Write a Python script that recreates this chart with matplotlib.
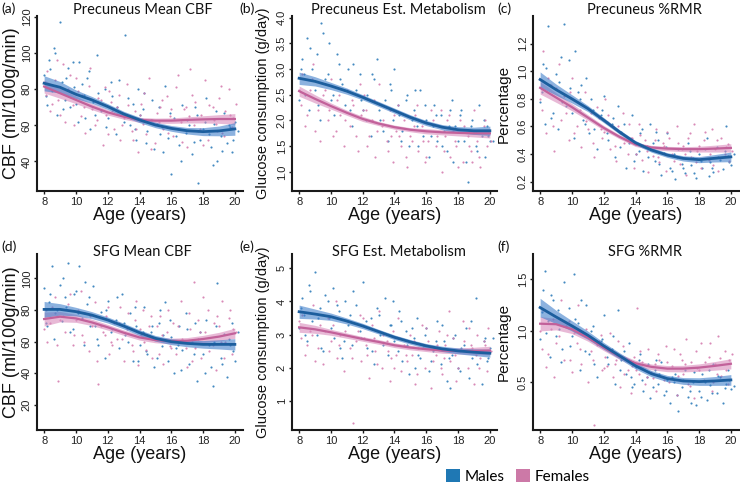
import matplotlib
matplotlib.use('Agg')
import matplotlib.pyplot as plt
from matplotlib.patches import Patch

AXF = 'Liberation Sans'
TF = 'Lato'

# ---------------- data ----------------
fit_age = [8, 9, 10, 11, 12, 13, 14, 15, 16, 17, 18, 19, 20]

male_age = [8.0, 8.2, 8.3, 8.5, 8.6, 8.8, 9.0, 9.1, 9.3, 9.5, 9.6, 9.9, 10.1, 10.2, 10.5,
            10.7, 10.9, 11.1, 11.3, 11.6, 11.8, 12.0, 12.3, 12.5, 12.7, 12.9, 13.1, 13.4,
            13.6, 13.8, 14.0, 14.3, 14.5, 14.7, 14.9, 15.2, 15.4, 15.6, 15.8, 16.0, 16.2,
            16.5, 16.7, 16.9, 17.1, 17.3, 17.6, 17.8, 18.0, 18.2, 18.5, 18.7, 18.9, 19.1,
            19.3, 19.5, 19.7, 19.8, 20.0, 16.4,
            8.1, 8.4, 8.7, 9.2, 9.4, 9.8, 10.0, 10.4, 10.8, 11.2, 11.4, 11.9, 12.2, 12.6,
            13.0, 13.3, 13.7, 14.2, 14.4, 14.8, 15.1, 15.5, 15.9, 16.3, 16.6, 17.0, 17.4,
            17.7, 18.1, 18.4, 18.8, 19.2, 19.6, 19.9, 10.6, 13.9, 15.3, 17.5, 18.6, 20.2]
female_age = [8.1, 8.2, 8.4, 8.7, 8.9, 9.2, 9.3, 9.5, 9.8, 10.0, 10.3, 10.4, 10.6, 10.8,
              11.0, 11.2, 11.4, 11.7, 11.9, 12.1, 12.4, 12.6, 12.8, 13.0, 13.2, 13.5, 13.7,
              13.9, 14.1, 14.2, 14.4, 14.6, 14.8, 15.0, 15.3, 15.5, 15.7, 15.9, 16.1, 16.3,
              16.6, 16.8, 17.0, 17.2, 17.4, 17.5, 17.7, 17.9, 18.1, 18.3, 18.6, 18.8, 19.0,
              19.2, 19.4, 19.6, 19.8, 19.9, 12.2, 15.1,
              8.0, 8.5, 8.8, 9.0, 9.6, 9.9, 10.1, 10.5, 10.9, 11.3, 11.6, 12.0, 12.3, 12.7,
              12.9, 13.3, 13.6, 14.0, 14.3, 14.7, 15.2, 15.4, 15.8, 16.0, 16.4, 16.7, 17.1,
              17.3, 17.8, 18.0, 18.4, 18.7, 19.1, 19.3, 19.7, 20.1, 11.8, 13.8, 16.9, 18.9]

# (a) Precuneus Mean CBF
a_male_pts = [88, 71, 96, 79, 103, 66, 117, 84, 74, 92, 70, 81, 62, 95, 77, 86, 58, 73, 99, 68,
              80, 64, 76, 55, 85, 67, 110, 60, 72, 52, 66, 78, 57, 63, 47, 70, 59, 82, 53, 33,
              64, 49, 71, 56, 60, 44, 66, 52, 58, 75, 48, 61, 40, 54, 67, 50, 59, 45, 62, 58,
              76, 91, 100, 69, 86, 95, 72, 83, 90, 66, 78, 59, 84, 70, 62, 75, 58, 69, 50, 74,
              61, 45, 67, 54, 40, 63, 51, 28, 62, 55, 68, 46, 60, 52, 64, 80, 55, 70, 38, 57]
a_female_pts = [77, 90, 68, 85, 74, 94, 62, 80, 71, 86, 65, 77, 56, 82, 69, 60, 75, 49, 66, 79,
                58, 70, 52, 64, 83, 57, 68, 45, 72, 61, 55, 86, 63, 50, 70, 58, 76, 65, 54, 81,
                62, 69, 48, 91, 60, 73, 57, 66, 85, 52, 70, 61, 75, 56, 68, 80, 59, 64, 73, 67,
                84, 72, 96, 66, 88, 60, 79, 70, 92, 63, 74, 55, 68, 77, 60, 71, 52, 66, 78, 47,
                62, 74, 56, 69, 88, 51, 65, 77, 58, 49, 71, 63, 82, 54, 66, 72, 81, 58, 70, 57]
a_male_fit = [83.3, 81.1, 77.2, 74.1, 70.4, 66.3, 63.0, 60.2, 58.3, 57.0, 56.5, 56.9, 58.0]
a_male_se = [4.2, 3.2, 2.4, 1.9, 1.6, 1.5, 1.5, 1.5, 1.6, 1.8, 2.2, 2.7, 3.5]
a_female_fit = [81.5, 77.8, 74.1, 70.4, 67.2, 64.8, 63.0, 62.6, 62.6, 63.0, 63.3, 63.5, 63.5]
a_female_se = [3.6, 2.8, 2.1, 1.7, 1.5, 1.4, 1.4, 1.4, 1.5, 1.7, 2.0, 2.4, 3.0]

# (b) Precuneus Est. Metabolism
b_male_pts = [2.4, 3.2, 2.9, 3.6, 2.2, 3.0, 2.6, 3.3, 2.0, 3.7, 2.8, 3.5, 2.5, 2.1, 3.1, 2.7,
              2.3, 3.0, 1.9, 2.6, 2.9, 2.2, 2.5, 1.7, 2.8, 3.2, 2.0, 2.4, 1.6, 2.6, 3.0, 2.1,
              1.8, 2.4, 1.5, 2.2, 1.9, 2.6, 1.7, 2.0, 1.3, 2.3, 1.6, 2.1, 1.8, 1.4, 2.4, 1.9,
              1.6, 2.2, 1.2, 1.8, 2.0, 1.5, 2.3, 1.7, 1.3, 1.9, 1.6, 1.9,
              3.0, 2.5, 3.4, 2.3, 3.9, 2.9, 2.4, 3.3, 2.6, 2.2, 3.1, 2.4, 2.0, 2.9, 2.2, 1.8,
              2.7, 2.3, 1.6, 2.5, 2.0, 1.5, 2.3, 1.7, 2.1, 1.5, 1.9, 1.2, 2.1, 1.6, 1.9, 1.4,
              2.0, 1.7, 2.8, 2.0, 2.6, 2.2, 0.8, 1.6]
b_female_pts = [2.3, 2.9, 1.9, 2.6, 3.1, 2.2, 1.6, 2.5, 2.0, 2.8, 1.8, 2.4, 2.1, 1.5, 2.6, 1.9,
                2.3, 1.4, 2.1, 2.5, 1.7, 2.0, 1.3, 2.7, 1.9, 1.6, 2.2, 1.2, 1.8, 2.3, 1.5, 2.0,
                1.1, 1.7, 2.1, 1.4, 1.9, 1.2, 1.6, 2.2, 1.5, 1.9, 1.0, 1.7, 2.1, 1.3, 1.8, 1.5,
                2.0, 1.2, 1.7, 1.4, 2.2, 1.6, 1.1, 1.9, 1.5, 1.8, 2.2, 1.6,
                2.6, 2.1, 2.8, 1.8, 2.6, 2.2, 1.7, 2.5, 2.0, 2.4, 1.7, 2.2, 1.5, 2.4, 1.8, 2.0,
                1.4, 2.1, 1.7, 1.3, 1.9, 2.3, 1.6, 1.3, 2.0, 1.7, 1.4, 2.0, 1.6, 1.1, 1.9, 1.5,
                1.8, 1.3, 2.0, 1.6, 2.7, 1.7, 2.2, 1.2]
b_male_fit = [2.82, 2.76, 2.67, 2.57, 2.45, 2.32, 2.19, 2.06, 1.95, 1.87, 1.82, 1.80, 1.80]
b_male_se = [0.12, 0.09, 0.07, 0.06, 0.05, 0.05, 0.05, 0.05, 0.05, 0.05, 0.06, 0.07, 0.09]
b_female_fit = [2.57, 2.42, 2.28, 2.15, 2.03, 1.94, 1.87, 1.82, 1.79, 1.77, 1.76, 1.75, 1.75]
b_female_se = [0.10, 0.08, 0.06, 0.05, 0.05, 0.04, 0.04, 0.04, 0.05, 0.05, 0.06, 0.07, 0.09]

# (c) Precuneus %RMR
c_male_pts = [0.78, 1.05, 0.62, 1.33, 0.90, 0.70, 0.98, 0.58, 1.10, 1.34, 0.75, 0.88, 0.52,
              1.15, 0.80, 0.65, 0.95, 0.55, 0.72, 0.44, 0.68, 0.82, 0.50, 0.62, 0.38, 0.75,
              0.56, 0.30, 0.48, 0.68, 0.40, 0.55, 0.28, 0.46, 0.62, 0.35, 0.50, 0.25, 0.41,
              0.55, 0.30, 0.22, 0.44, 0.33, 0.26, 0.48, 0.37, 0.23, 0.40, 0.30, 0.52, 0.34,
              0.27, 0.45, 0.36, 0.29, 0.60, 0.39, 0.32, 0.40,
              0.85, 1.02, 0.66, 0.92, 0.78, 1.08, 0.70, 0.85, 0.62, 0.80, 0.58, 0.72, 0.55,
              0.66, 0.45, 0.62, 0.50, 0.42, 0.58, 0.38, 0.48, 0.33, 0.45, 0.28, 0.38, 0.30,
              0.42, 0.26, 0.35, 0.44, 0.30, 0.38, 0.42, 0.34, 0.90, 0.35, 0.56, 0.32, 0.24, 0.40]
c_female_pts = [0.72, 1.15, 0.55, 0.90, 0.42, 1.05, 0.65, 0.82, 0.50, 0.95, 0.60, 0.78, 0.45,
                0.85, 0.58, 0.70, 0.38, 0.66, 0.52, 0.80, 0.44, 0.60, 0.35, 0.55, 0.70, 0.40,
                0.52, 0.30, 0.47, 0.62, 0.36, 0.50, 0.27, 0.44, 0.58, 0.34, 0.48, 0.28, 0.52,
                0.40, 0.60, 0.33, 0.46, 0.25, 0.55, 0.38, 0.62, 0.42, 0.30, 0.50, 0.36, 0.58,
                0.44, 0.28, 0.52, 0.40, 0.47, 0.35, 0.63, 0.39,
                0.80, 0.95, 0.60, 0.88, 0.70, 0.85, 0.55, 0.72, 0.64, 0.48, 0.74, 0.56, 0.68,
                0.46, 0.60, 0.48, 0.62, 0.40, 0.54, 0.42, 0.50, 0.38, 0.46, 0.56, 0.35, 0.48,
                0.40, 0.52, 0.34, 0.46, 0.56, 0.40, 0.50, 0.37, 0.45, 0.42, 0.58, 0.52, 0.44, 0.32]
c_male_fit = [0.94, 0.867, 0.80, 0.73, 0.646, 0.56, 0.482, 0.43, 0.393, 0.369, 0.36, 0.37, 0.38]
c_male_se = [0.055, 0.04, 0.03, 0.022, 0.018, 0.016, 0.016, 0.016, 0.017, 0.019, 0.022, 0.027, 0.035]
c_female_fit = [0.88, 0.81, 0.74, 0.665, 0.59, 0.525, 0.47, 0.448, 0.44, 0.436, 0.436, 0.44, 0.445]
c_female_se = [0.045, 0.035, 0.026, 0.02, 0.017, 0.015, 0.015, 0.015, 0.016, 0.018, 0.021, 0.025, 0.03]

# (d) SFG Mean CBF
d_male_pts = [94, 70, 85, 108, 62, 80, 96, 73, 88, 110, 66, 90, 78, 108, 58, 84, 70, 95, 62, 79,
              50, 86, 68, 74, 56, 90, 64, 78, 48, 70, 58, 82, 52, 66, 44, 72, 57, 85, 48, 63,
              40, 70, 55, 78, 46, 60, 35, 66, 52, 74, 44, 60, 97, 50, 65, 38, 58, 72, 48, 58,
              72, 90, 78, 100, 82, 68, 92, 75, 88, 70, 58, 80, 66, 88, 72, 60, 82, 66, 54, 70,
              50, 64, 74, 56, 42, 68, 52, 62, 40, 58, 70, 46, 62, 54, 98, 48, 80, 72, 32, 66]
d_female_pts = [80, 60, 72, 88, 35, 76, 66, 84, 58, 74, 92, 64, 78, 54, 70, 85, 33, 66, 76, 52,
                72, 62, 82, 48, 68, 58, 74, 45, 64, 80, 55, 70, 50, 62, 76, 46, 66, 57, 72, 52,
                86, 60, 44, 68, 98, 56, 74, 50, 66, 80, 58, 42, 70, 86, 60, 75, 52, 68, 60, 70,
                68, 82, 58, 74, 90, 64, 80, 60, 76, 48, 70, 82, 58, 72, 62, 78, 54, 68, 60, 76,
                52, 64, 80, 56, 70, 62, 78, 48, 66, 88, 54, 72, 60, 50, 80, 66, 64, 86, 56, 76]
d_male_fit = [80.4, 80.4, 79.0, 76.8, 73.7, 69.9, 65.7, 62.1, 60.0, 58.9, 58.3, 58.3, 58.3]
d_male_se = [5.0, 3.6, 2.7, 2.2, 1.9, 1.8, 1.8, 1.8, 1.9, 2.1, 2.4, 2.9, 3.6]
d_female_fit = [74.3, 75.8, 74.7, 72.2, 69.1, 65.7, 62.7, 61.0, 60.4, 60.6, 61.7, 63.2, 65.3]
d_female_se = [4.4, 3.3, 2.5, 2.0, 1.8, 1.7, 1.7, 1.7, 1.8, 2.0, 2.3, 2.7, 3.2]

# (e) SFG Est. Metabolism
e_male_pts = [3.2, 4.1, 3.6, 2.8, 4.5, 3.4, 4.9, 3.0, 3.8, 2.5, 4.2, 3.5, 4.4, 2.9, 3.7, 2.3,
              4.0, 3.3, 2.7, 3.9, 3.1, 4.6, 2.6, 3.5, 2.1, 3.8, 3.0, 4.1, 2.4, 3.3, 2.8, 3.7,
              2.2, 3.1, 1.8, 2.9, 3.5, 2.3, 2.7, 3.2, 1.9, 2.6, 3.4, 2.1, 2.8, 1.6, 2.4, 3.0,
              2.0, 2.6, 3.2, 1.7, 2.3, 4.1, 2.5, 1.5, 2.9, 2.2, 2.6, 2.5,
              3.8, 3.0, 4.3, 3.5, 2.6, 4.0, 3.2, 3.9, 2.8, 3.6, 4.3, 2.9, 3.4, 2.5, 3.6, 2.7,
              3.3, 2.5, 3.4, 2.7, 3.2, 2.4, 3.0, 2.2, 2.8, 3.3, 2.3, 2.9, 1.9, 2.7, 3.4, 2.1,
              2.8, 2.3, 2.6, 4.0, 2.0, 1.4, 2.5, 2.9]
e_female_pts = [2.9, 3.6, 2.4, 3.1, 3.9, 2.6, 3.3, 2.1, 3.5, 2.8, 4.0, 2.3, 3.0, 1.9, 3.4, 2.6,
                0.35, 3.1, 2.2, 2.9, 1.7, 3.3, 2.5, 3.7, 2.0, 2.8, 1.6, 3.1, 2.4, 3.5, 1.9, 2.7,
                2.2, 3.0, 1.5, 2.6, 3.3, 2.0, 2.8, 1.4, 2.4, 3.1, 1.8, 2.7, 3.7, 2.2, 2.9, 1.6,
                2.5, 3.4, 2.0, 2.7, 1.5, 3.0, 2.3, 2.8, 1.9, 3.2, 2.7, 2.4,
                3.4, 2.7, 3.0, 2.2, 3.1, 2.5, 3.3, 2.7, 3.1, 2.3, 2.8, 3.5, 2.4, 2.9, 2.1, 3.0,
                2.5, 2.0, 2.9, 2.4, 2.8, 1.8, 2.6, 3.2, 2.2, 2.7, 2.3, 3.0, 2.4, 2.0, 2.8, 3.2,
                2.4, 2.0, 2.7, 2.5, 3.6, 2.3, 2.0, 2.6]
e_male_fit = [3.69, 3.62, 3.54, 3.41, 3.26, 3.09, 2.92, 2.78, 2.66, 2.57, 2.51, 2.47, 2.44]
e_male_se = [0.20, 0.15, 0.11, 0.09, 0.08, 0.07, 0.07, 0.07, 0.07, 0.08, 0.09, 0.10, 0.12]
e_female_fit = [3.22, 3.16, 3.07, 2.97, 2.87, 2.78, 2.68, 2.61, 2.56, 2.52, 2.51, 2.51, 2.52]
e_female_se = [0.15, 0.12, 0.09, 0.08, 0.07, 0.07, 0.07, 0.07, 0.07, 0.08, 0.09, 0.11, 0.13]

# (f) SFG %RMR
f_male_pts = [0.92, 1.40, 1.58, 1.10, 0.75, 1.30, 0.95, 1.20, 0.70, 1.48, 1.05, 0.85, 1.55,
              1.12, 0.62, 0.98, 1.25, 0.78, 1.05, 0.55, 0.90, 1.15, 0.68, 0.82, 0.48, 1.20,
              0.72, 0.58, 0.88, 0.45, 0.65, 0.78, 0.42, 0.55, 0.35, 0.62, 0.48, 0.70, 0.38,
              0.52, 0.30, 0.58, 0.22, 0.45, 0.62, 0.36, 0.50, 0.28, 0.42, 0.58, 0.33, 0.47,
              0.68, 0.40, 0.55, 0.30, 0.48, 0.62, 0.43, 0.50,
              1.18, 0.98, 1.35, 1.02, 0.82, 1.22, 0.95, 1.08, 0.80, 1.00, 0.68, 0.92, 0.75,
              0.95, 0.62, 0.80, 0.55, 0.72, 0.52, 0.68, 0.45, 0.58, 0.42, 0.55, 0.38, 0.52,
              0.42, 0.60, 0.36, 0.50, 0.40, 0.56, 0.44, 0.52, 1.30, 0.48, 0.72, 0.30, 0.62, 0.46]
f_female_pts = [0.82, 1.20, 0.65, 1.02, 0.55, 0.95, 1.30, 0.72, 1.10, 0.60, 0.88, 1.25, 0.68,
                0.95, 0.50, 0.80, 0.08, 0.90, 0.62, 0.75, 0.98, 0.55, 0.72, 0.45, 0.85, 0.62,
                0.40, 0.75, 1.22, 0.58, 0.70, 0.48, 0.82, 0.60, 0.42, 0.72, 0.55, 0.85, 0.50,
                0.66, 0.38, 0.78, 0.58, 0.92, 0.46, 0.70, 0.35, 0.64, 0.88, 0.52, 0.75, 0.42,
                0.68, 0.95, 0.56, 0.80, 0.48, 0.72, 0.66, 0.54,
                1.00, 0.78, 1.12, 0.88, 1.05, 0.72, 0.98, 0.82, 1.02, 0.72, 0.86, 0.64, 0.82,
                0.68, 0.90, 0.58, 0.72, 0.62, 0.80, 0.55, 0.68, 0.78, 0.52, 0.70, 0.82, 0.56,
                0.68, 0.48, 0.80, 0.62, 0.70, 0.88, 0.58, 0.74, 0.62, 0.78, 0.96, 0.66, 0.72, 0.50]
f_male_fit = [1.227, 1.136, 1.049, 0.958, 0.854, 0.757, 0.66, 0.584, 0.536, 0.513, 0.507, 0.513, 0.523]
f_male_se = [0.09, 0.065, 0.05, 0.04, 0.033, 0.03, 0.03, 0.03, 0.031, 0.033, 0.037, 0.043, 0.052]
f_female_fit = [1.07, 1.065, 1.016, 0.935, 0.838, 0.75, 0.685, 0.65, 0.633, 0.633, 0.643, 0.66, 0.68]
f_female_se = [0.07, 0.055, 0.042, 0.035, 0.03, 0.028, 0.028, 0.028, 0.03, 0.032, 0.036, 0.042, 0.05]

titles = ['Precuneus Mean CBF', 'Precuneus Est. Metabolism', 'Precuneus %RMR',
          'SFG Mean CBF', 'SFG Est. Metabolism', 'SFG %RMR']
letters = ['(a)', '(b)', '(c)', '(d)', '(e)', '(f)']
ylabels = ['CBF (ml/100g/min)', 'Glucose consumption (g/day)', 'Percentage',
           'CBF (ml/100g/min)', 'Glucose consumption (g/day)', 'Percentage']
x_ticks = [8, 10, 12, 14, 16, 18, 20]
y_ticks = [[40, 60, 80, 100, 120],
           [1.0, 1.5, 2.0, 2.5, 3.0, 3.5, 4.0],
           [0.2, 0.4, 0.6, 0.8, 1.0, 1.2],
           [20, 40, 60, 80, 100],
           [1, 2, 3, 4, 5],
           [0.5, 1.0, 1.5]]
y_ticklabels = [['40', '60', '80', '100', '120'],
                ['1.0', '1.5', '2.0', '2.5', '3.0', '3.5', '4.0'],
                ['0.2', '0.4', '0.6', '0.8', '1.0', '1.2'],
                ['20', '40', '60', '80', '100'],
                ['1', '2', '3', '4', '5'],
                ['0.5', '1.0', '1.5']]
y_lims = [(23.6, 120.6), (0.63, 4.03), (0.133, 1.40),
          (4.2, 115.4), (0.126, 5.43), (0.036, 1.748)]
legend_labels = ['Males', 'Females']

panels = [
    (a_male_pts, a_female_pts, a_male_fit, a_male_se, a_female_fit, a_female_se),
    (b_male_pts, b_female_pts, b_male_fit, b_male_se, b_female_fit, b_female_se),
    (c_male_pts, c_female_pts, c_male_fit, c_male_se, c_female_fit, c_female_se),
    (d_male_pts, d_female_pts, d_male_fit, d_male_se, d_female_fit, d_female_se),
    (e_male_pts, e_female_pts, e_male_fit, e_male_se, e_female_fit, e_female_se),
    (f_male_pts, f_female_pts, f_male_fit, f_male_se, f_female_fit, f_female_se),
]

# ---------------- style ----------------
BLUE_PT = '#2F7DBB'
BLUE_LINE = '#1C5E9E'
BLUE_BAND = '#3F7FCB'
PINK_PT = '#D57DB0'
PINK_LINE = '#C2619A'
PINK_BAND = '#D98BBC'
LEG_BLUE = '#1F78B4'
LEG_PINK = '#CC79A7'

W, H = 740, 484
fig = plt.figure(figsize=(W / 100, H / 100), dpi=100)

col_x0 = [36.5, 291.5, 532.5]
ax_w = 206
rows = [(16, 191), (254, 430)]
ylab_x = [12, 263, 504]
ylab_size = [13, 10.5, 11]
letter_x = [1, 239.5, 497]
letter_y = [9, 247]
title_y = [10, 252]
title_dx = [3, 4, 9]

for i, (mp, fp, mfit, mse, ffit, fse) in enumerate(panels):
    r, c = divmod(i, 3)
    top, bot = rows[r]
    x0 = col_x0[c]
    ax = fig.add_axes([x0 / W, 1 - bot / H, ax_w / W, (bot - top) / H])
    ax.scatter(male_age, mp, s=2.4, color=BLUE_PT, linewidths=0, alpha=0.9, zorder=1)
    ax.scatter(female_age, fp, s=2.4, color=PINK_PT, linewidths=0, alpha=0.9, zorder=1)
    flo = [v - s for v, s in zip(ffit, fse)]
    fhi = [v + s for v, s in zip(ffit, fse)]
    mlo = [v - s for v, s in zip(mfit, mse)]
    mhi = [v + s for v, s in zip(mfit, mse)]
    ax.fill_between(fit_age, flo, fhi, color=PINK_BAND, alpha=0.6, linewidth=0, zorder=2)
    ax.fill_between(fit_age, mlo, mhi, color=BLUE_BAND, alpha=0.6, linewidth=0, zorder=3)
    ax.plot(fit_age, ffit, color=PINK_LINE, lw=1.6, zorder=4)
    ax.plot(fit_age, mfit, color=BLUE_LINE, lw=2.0, zorder=5)

    ax.set_xlim(7.52, 20.48)
    ax.set_ylim(*y_lims[i])
    ax.set_xticks(x_ticks)
    ax.set_xticklabels([str(t) for t in x_ticks], fontfamily=AXF, fontsize=8, color='#222222')
    ax.set_yticks(y_ticks[i])
    ax.set_yticklabels(y_ticklabels[i], fontfamily=AXF, fontsize=8, color='#222222',
                       rotation=90, va='center')
    for s in ('top', 'right'):
        ax.spines[s].set_visible(False)
    for s in ('left', 'bottom'):
        ax.spines[s].set_linewidth(1.5)
        ax.spines[s].set_color('#1a1a1a')
    ax.tick_params(axis='both', direction='out', length=2.5, width=1.0, color='#1a1a1a')
    ax.tick_params(axis='x', pad=1.5)
    ax.tick_params(axis='y', pad=1)

    ax.set_xlabel('Age (years)', fontfamily=AXF, fontsize=13, color='#111111')
    ax.xaxis.set_label_coords(0.5, -0.092)
    ax.set_ylabel(ylabels[i], fontfamily=AXF, fontsize=ylab_size[c],
                  color='#111111', va='center')
    ax.yaxis.set_label_coords((ylab_x[c] - x0) / ax_w, 0.5)

    fig.text((x0 + ax_w / 2 + title_dx[c]) / W, 1 - title_y[r] / H, titles[i],
             fontfamily=TF, fontsize=10.5, color='#111111', ha='center', va='center')
    fig.text(letter_x[c] / W, 1 - letter_y[r] / H, letters[i], fontfamily=TF,
             fontsize=10, va='center', ha='left', color='#111111')

handles = [Patch(facecolor=LEG_BLUE, edgecolor='none'),
           Patch(facecolor=LEG_PINK, edgecolor='none')]
fig.legend(handles, legend_labels, loc='center left', bbox_to_anchor=(446 / W, 1 - 476.5 / H),
           ncol=2, frameon=False, handlelength=0.9, handleheight=0.9,
           handletextpad=0.35, columnspacing=0.7, borderpad=0, borderaxespad=0,
           prop={'family': TF, 'size': 11})

fig.savefig('out.png', dpi=100)
